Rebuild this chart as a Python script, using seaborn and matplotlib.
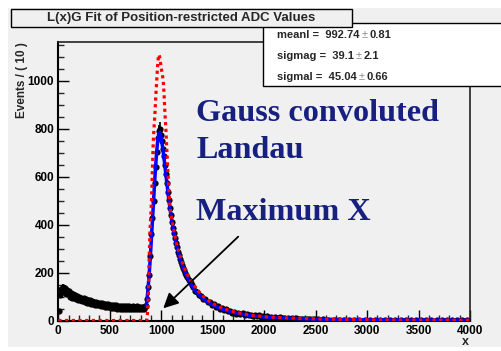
import numpy as np
import pandas as pd
import seaborn as sns
import matplotlib.pyplot as plt
from matplotlib.patches import Rectangle
from matplotlib.text import Annotation
from matplotlib.ticker import MultipleLocator

# ---------------- data ----------------
# bin centres (bin width 10) and counts
bg_x = list(range(5, 850, 10))
bg_counts = [38, 108, 130, 118, 140, 124, 135, 112, 128, 110,
             122, 100, 115, 96, 110, 92, 106, 90, 101, 86,
             98, 84, 95, 80, 92, 78, 88, 74, 86, 72,
             84, 70, 80, 68, 79, 66, 76, 65, 75, 63,
             73, 60, 72, 59, 70, 58, 69, 56, 68, 55,
             66, 54, 65, 52, 64, 51, 63, 50, 62, 50,
             61, 49, 60, 48, 60, 48, 59, 47, 60, 48,
             58, 47, 59, 46, 58, 47, 59, 46, 58, 47,
             57, 48, 58, 50, 62]
peak_x = list(range(855, 1300, 10))
peak_counts = [62, 88, 140, 190, 270, 360, 430, 500, 575, 640,
               705, 760, 790, 800, 775, 748, 718, 685, 650, 612,
               575, 538, 502, 470, 440, 412, 388, 365, 344, 325,
               306, 288, 272, 258, 245, 232, 220, 209, 198, 189,
               180, 171, 163, 155, 148]
tail_x = list(range(1310, 2500, 20))
tail_counts = [141, 124, 120, 105, 103, 89, 89, 77, 77, 66,
               67, 57, 59, 49, 52, 43, 46, 38, 41, 33,
               37, 29, 33, 26, 30, 23, 27, 21, 25, 18,
               23, 17, 21, 15, 19, 13, 17, 12, 15, 11,
               14, 10, 13, 9, 12, 8, 11, 8, 10, 7,
               9, 7, 8, 6, 8, 6, 7, 5, 7, 5]
far_x = list(range(2525, 4000, 50))
far_counts = [5, 5, 4, 4, 4, 4, 3, 3, 3, 3,
              3, 3, 2, 2, 2, 2, 2, 2, 2, 2,
              1, 1, 1, 1, 1, 1, 1, 1, 1, 1]

# Gauss-convoluted Landau fit (blue)
fit_x = [855, 865, 875, 885, 895, 905, 915, 925, 935, 945, 955, 965, 975, 985,
         995, 1005, 1015, 1025, 1035, 1045, 1055, 1065, 1075, 1085, 1095, 1105,
         1125, 1145, 1165, 1185, 1205, 1225, 1245, 1265, 1285, 1305, 1350, 1400,
         1450, 1500, 1550, 1600, 1700, 1800, 1900, 2000, 2200, 2400, 2600, 2800,
         3000, 3300, 3600, 4000]
fit_y = [60, 100, 150, 205, 270, 345, 420, 495, 570, 640, 700, 748, 778, 785,
         772, 748, 718, 684, 648, 610, 573, 536, 500, 468, 438, 410,
         362, 322, 287, 256, 230, 207, 187, 170, 154, 140, 115, 94,
         78, 65, 55, 46, 34, 25, 19, 15, 10, 7, 5, 4,
         3, 2, 2, 1]

# Landau component (red dotted)
lan_x = [0, 850, 860, 868, 875, 881, 891, 900, 907, 915, 923, 931, 939, 947,
         956, 965, 972, 978, 985, 992, 1000, 1010, 1020, 1028, 1036, 1045, 1053,
         1061, 1069, 1077, 1085, 1095, 1110, 1130, 1150, 1175, 1200, 1225, 1250,
         1275, 1300, 1350, 1400, 1450, 1500, 1550, 1600, 1700, 1800, 1900, 2000,
         2200, 2400, 2600, 2800, 3000, 3300, 3600, 4000]
lan_y = [0, 0, 0, 40, 100, 230, 375, 450, 515, 640, 750, 810, 865, 935,
         1000, 1065, 1100, 1110, 1100, 1080, 1055, 1030, 1000, 940, 866, 800, 726,
         655, 587, 525, 475, 440, 405, 360, 320, 280, 248, 220, 196,
         176, 158, 128, 104, 86, 71, 60, 50, 37, 28, 21, 16,
         11, 8, 6, 4, 3, 2, 2, 1]

x_ticks = [0, 500, 1000, 1500, 2000, 2500, 3000, 3500, 4000]
y_ticks = [0, 200, 400, 600, 800, 1000]

title = "L(x)G Fit of Position-restricted ADC Values"
stats = [("meanl =  992.74", "0.81"), ("sigmag =  39.1", "2.1"), ("sigmal =  45.04", "0.66")]

# ---------------- figure ----------------
sns.set_style("ticks")
plt.rcParams['font.family'] = ['Liberation Sans', 'DejaVu Sans']

W, H = 502, 351
fig = plt.figure(figsize=(W / 100, H / 100), dpi=100)
fig.patch.set_facecolor('white')


def fx(px):
    return px / W


def fy(py):
    return 1 - py / H


GRAY = '#f0f0f0'
fig.patches.append(Rectangle((fx(8), fy(347)), fx(502) - fx(8), fy(8) - fy(347),
                             transform=fig.transFigure, facecolor=GRAY,
                             edgecolor='none', zorder=-5))

ax = fig.add_axes([fx(58.3), fy(320.5), fx(470) - fx(58.3), fy(41.7) - fy(320.5)])
ax.set_facecolor(GRAY)
ax.set_zorder(1)

pts = pd.DataFrame({
    'x': bg_x + peak_x + tail_x + far_x,
    'n': bg_counts + peak_counts + tail_counts + far_counts,
})
ax.errorbar(pts['x'], pts['n'], yerr=np.sqrt(pts['n']), fmt='none',
            ecolor='black', elinewidth=1.2, capsize=0, zorder=3)
sns.scatterplot(data=pts, x='x', y='n', ax=ax, color='black', s=20,
                linewidth=0, zorder=3)

fit = pd.DataFrame({'x': fit_x, 'y': fit_y})
sns.lineplot(data=fit, x='x', y='y', ax=ax, color='#0000ff', lw=2.5, zorder=4)
lan = pd.DataFrame({'x': lan_x, 'y': lan_y})
sns.lineplot(data=lan, x='x', y='y', ax=ax, color='#ff0000', lw=2.3,
             linestyle=(0, (1, 1.1)), zorder=5)

ax.set_xlim(0, 4000)
ax.set_ylim(0, 1164)
ax.set_xlabel('')
ax.set_ylabel('')
ax.set_xticks(x_ticks)
ax.set_xticklabels([str(v) for v in x_ticks])
ax.set_yticks(y_ticks)
ax.set_yticklabels([str(v) for v in y_ticks])
ax.xaxis.set_minor_locator(MultipleLocator(100))
ax.yaxis.set_minor_locator(MultipleLocator(50))
ax.tick_params(axis='both', which='major', direction='in', length=8, width=1,
               labelsize=8.5, pad=3, colors='black')
ax.tick_params(axis='both', which='minor', direction='in', length=4, width=1)
ax.tick_params(top=False, right=False, which='both')
for lab in ax.get_xticklabels() + ax.get_yticklabels():
    lab.set_fontweight('bold')
for side in ['left', 'bottom']:
    ax.spines[side].set_linewidth(1.5)
    ax.spines[side].set_color('black')
for side in ['top', 'right']:
    ax.spines[side].set_linewidth(1.2)
    ax.spines[side].set_color('#222222')
    ax.spines[side].set_visible(True)

ax.annotate("", xy=(1020, 51), xytext=(1748, 350),
            arrowprops=dict(arrowstyle='-|>,head_length=0.9,head_width=0.45',
                            color='black', lw=1.3, shrinkA=0, shrinkB=0),
            zorder=6)

# axis titles
fig.text(fx(22.5), fy(42), "Events / ( 10 )", rotation=90, ha='center', va='top',
         fontsize=8.5, fontweight='bold')
fig.text(fx(465.5), fy(342), "x", ha='center', va='center', fontsize=9,
         fontweight='bold')

# stats box
fig.patches.append(Rectangle((fx(263), fy(86)), fx(510) - fx(263), fy(23) - fy(86),
                             transform=fig.transFigure, facecolor='white',
                             edgecolor='black', lw=1, zorder=6))
for i, (left, err) in enumerate(stats):
    yb = fy(38.5 + i * 20.5)
    t1 = fig.text(fx(277), yb, left, fontsize=8, fontweight='bold', va='baseline',
                  zorder=7)
    t2 = Annotation("\u00b1", xy=(1, yb), xycoords=(t1, 'figure fraction'),
                    xytext=(1.5, 0), textcoords='offset points', va='baseline',
                    fontsize=8, color='#888888', zorder=7)
    fig.add_artist(t2)
    t3 = Annotation(err, xy=(1, yb), xycoords=(t2, 'figure fraction'),
                    xytext=(1.5, 0), textcoords='offset points', va='baseline',
                    fontsize=8, fontweight='bold', zorder=7)
    fig.add_artist(t3)

# title box
fig.patches.append(Rectangle((fx(11), fy(27)), fx(352) - fx(11), fy(9) - fy(27),
                             transform=fig.transFigure, facecolor=GRAY,
                             edgecolor='black', lw=1, zorder=8))
fig.text(fx(181.5), fy(18), title, ha='center', va='center', fontsize=9.5,
         fontweight='bold', zorder=9)

# annotations
NAVY = '#17207f'
for txt, yb in [("Gauss convoluted", 120.7), ("Landau", 158.3), ("Maximum X", 220)]:
    fig.text(fx(196.5), fy(yb), txt, family='Liberation Serif', fontweight='bold',
             fontsize=23.2, color=NAVY, va='baseline', ha='left', zorder=10)

fig.savefig('out.png', dpi=100)
